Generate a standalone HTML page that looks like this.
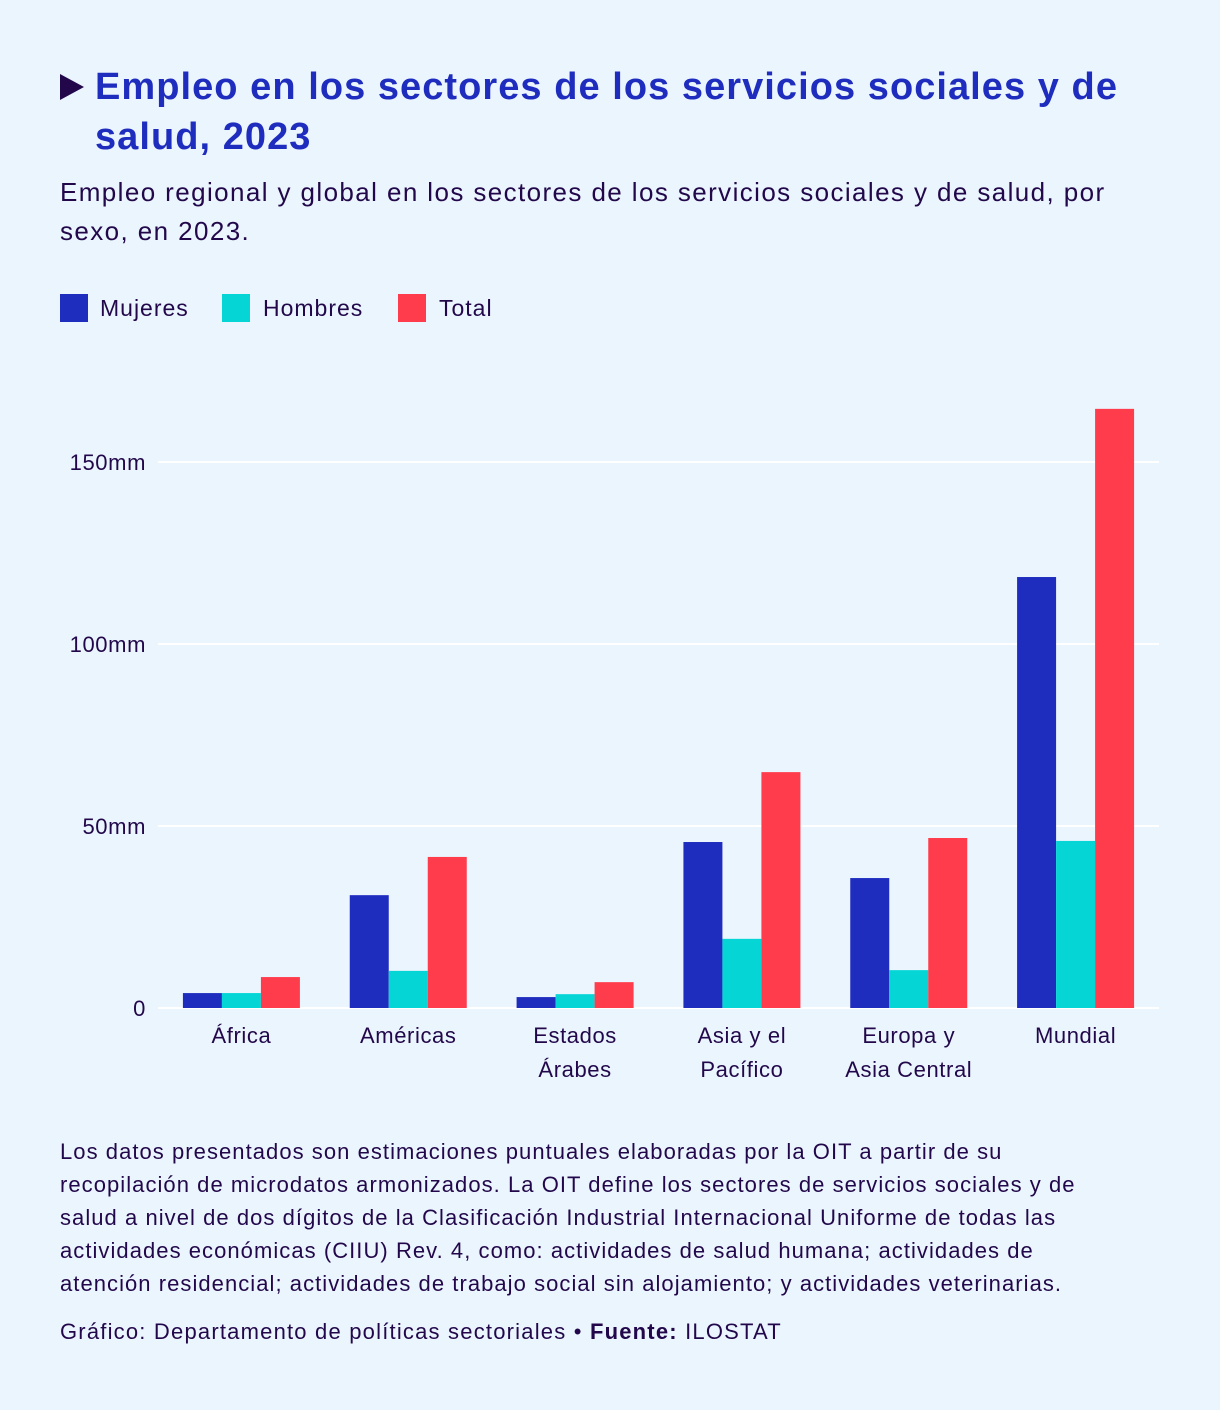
<!DOCTYPE html>
<html><head><meta charset="utf-8"><style>
body{margin:0;background:#EBF5FE;font-family:"Liberation Sans","DejaVu Sans",sans-serif;color:#22084A;}
#page{position:relative;width:1220px;height:1410px;overflow:hidden;}
.t{position:absolute;white-space:nowrap;}
</style></head><body>
<div id="page">
<svg class="t" style="left:60px;top:74px" width="24" height="26"><polygon points="0,0 24,13 0,26" fill="#22084A"/></svg>
<div class="t" style="left:95px;top:62px;font-size:38px;font-weight:bold;color:#1F2DBF;line-height:50px;letter-spacing:1.05px">Empleo en los sectores de los servicios sociales y de<br>salud, 2023</div>
<div class="t" style="left:60px;top:173px;font-size:26px;line-height:39px;letter-spacing:1.4px">Empleo regional y global en los sectores de los servicios sociales y de salud, por<br>sexo, en 2023.</div>
<div>
<div class="t" style="left:60px;top:294px;width:28px;height:28px;background:#1F2DBF"></div>
<div class="t" style="left:100px;top:294px;font-size:23px;line-height:28px;letter-spacing:1px">Mujeres</div>
<div class="t" style="left:222px;top:294px;width:28px;height:28px;background:#05D5D5"></div>
<div class="t" style="left:263px;top:294px;font-size:23px;line-height:28px;letter-spacing:1px">Hombres</div>
<div class="t" style="left:398px;top:294px;width:28px;height:28px;background:#FF3C4B"></div>
<div class="t" style="left:439px;top:294px;font-size:23px;line-height:28px;letter-spacing:1px">Total</div>
</div>
<svg id="chart" class="t" style="left:0;top:0" width="1220" height="1100"></svg>
<div class="t" style="left:60px;top:1135px;font-size:22px;line-height:33px;letter-spacing:1.05px">Los datos presentados son estimaciones puntuales elaboradas por la OIT a partir de su<br>recopilación de microdatos armonizados. La OIT define los sectores de servicios sociales y de<br>salud a nivel de dos dígitos de la Clasificación Industrial Internacional Uniforme de todas las<br>actividades económicas (CIIU) Rev. 4, como: actividades de salud humana; actividades de<br>atención residencial; actividades de trabajo social sin alojamiento; y actividades veterinarias.</div>
<div class="t" style="left:60px;top:1315px;font-size:22px;line-height:33px;letter-spacing:1.2px">Gráfico: Departamento de políticas sectoriales • <b>Fuente:</b> ILOSTAT</div>
</div>
<script>
const categories=[["África"],["Américas"],["Estados","Árabes"],["Asia y el","Pacífico"],["Europa y","Asia Central"],["Mundial"]];
const mujeres=[4.1,31,3.0,45.6,35.7,118.4];
const hombres=[4.1,10.2,3.8,19,10.4,45.9];
const total=[8.5,41.5,7.1,64.8,46.7,164.6];
const yTicks=[0,50,100,150];
const yTickLabels=["0","50mm","100mm","150mm"];
const NS="http://www.w3.org/2000/svg";
const svg=document.getElementById('chart');
const x0=158,x1=1159,y0=1008,pxPer=3.64;
const band=(x1-x0)/categories.length,bw=39;
const y=v=>y0-v*pxPer;
function mk(tag,attrs){const e=document.createElementNS(NS,tag);for(const k in attrs)e.setAttribute(k,attrs[k]);svg.appendChild(e);return e;}
yTicks.forEach((t,i)=>{
  const l=mk('line',{x1:x0,x2:x1,y1:y(t),y2:y(t),stroke:'#fff','stroke-width':2});
  
  
  const tx=mk('text',{x:146,y:y(t)+8,'text-anchor':'end','font-size':22,fill:'#22084A','font-family':'Liberation Sans, sans-serif','letter-spacing':'0.6'});
  tx.textContent=yTickLabels[i];
  
  
});
const series=[[mujeres,'#1F2DBF','mujeres'],[hombres,'#05D5D5','hombres'],[total,'#FF3C4B','total']];
categories.forEach((c,i)=>{
  const cx=x0+band*(i+0.5);
  series.forEach((s,j)=>{
    const v=s[0][i];
    const r=mk('rect',{x:cx-1.5*bw+j*bw,y:y(v),width:bw,height:v*pxPer,fill:s[1]});
    
    
  });
  c.forEach((line,k)=>{
    const tx=mk('text',{x:cx,y:1043+k*34,'text-anchor':'middle','font-size':22,fill:'#22084A','font-family':'Liberation Sans, sans-serif','letter-spacing':'0.6'});
    tx.textContent=line;
    
    
  });
});
</script>
</body></html>
